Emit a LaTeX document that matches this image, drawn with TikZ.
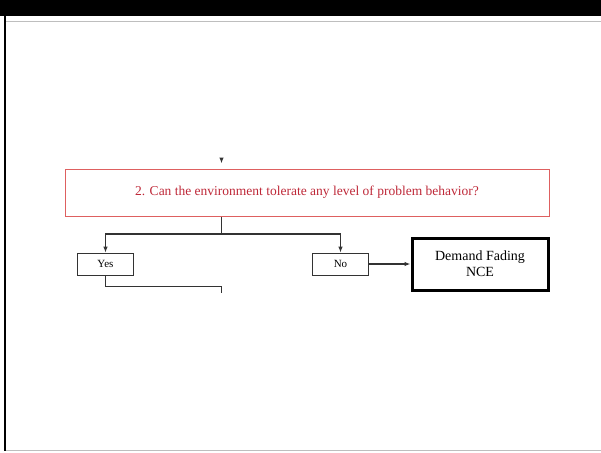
\documentclass[tikz,border=0pt]{standalone}
\usepackage{fontspec}
\setmainfont{Liberation Serif}
\usetikzlibrary{arrows.meta}
\definecolor{qred}{RGB}{190,40,56}
\definecolor{qframe}{RGB}{222,96,96}
\definecolor{rule}{RGB}{190,190,190}
\begin{document}
\begin{tikzpicture}[x=1pt,y=-1pt,
  lbl/.style={draw=black!80,line width=0.7pt,minimum width=56pt,minimum height=22pt,inner sep=0pt,font=\fontsize{11}{12}\selectfont},
  flow/.style={draw=black!80,line width=1.1pt},
  arr/.style={flow,-{Latex[length=6pt,width=4.5pt]}}]
\useasboundingbox (0,0) rectangle (601,452);
% slide frame
\fill[black] (0,0) rectangle (601,16);
\draw[rule,line width=1.2pt] (6,21.5) -- (601,21.5);
\fill[black] (3.5,16) rectangle (6,451);
\draw[rule,line width=1.5pt] (6,450.5) -- (601,450.5);
% question box
\node[draw=qframe,line width=1pt,minimum width=484pt,minimum height=47pt,inner sep=0pt,
      text=qred,font=\fontsize{13.5}{15}\selectfont] (q) at (307,192.5)
      {\raisebox{-2pt}{2. Can the environment tolerate any level of problem behavior?}};
\coordinate (top) at (221.5,159);
\draw[arr] (top) -- ++(0,4.5);
% answers
\node[lbl] (yes) at (105.5,264) {Yes};
\node[lbl] (no) at (340.5,264) {No};
\node[draw=black,line width=3pt,minimum width=136pt,minimum height=52pt,inner sep=0pt,align=center,
      font=\fontsize{14}{16}\selectfont] (nce) at (480,264) {Demand Fading\\NCE};
\coordinate (split) at (221.5,234);
\coordinate (join) at (221.5,286.5);
\coordinate (down) at (221.5,293);
\draw[flow] (q.south -| split) -- (split);
\draw[arr] (split) -| (yes.north);
\draw[arr] (split) -| (no.north);
\draw[arr] (no.east) -- (nce.west);
\draw[flow] (yes.south) |- (join) -- (down);
\end{tikzpicture}
\end{document}
